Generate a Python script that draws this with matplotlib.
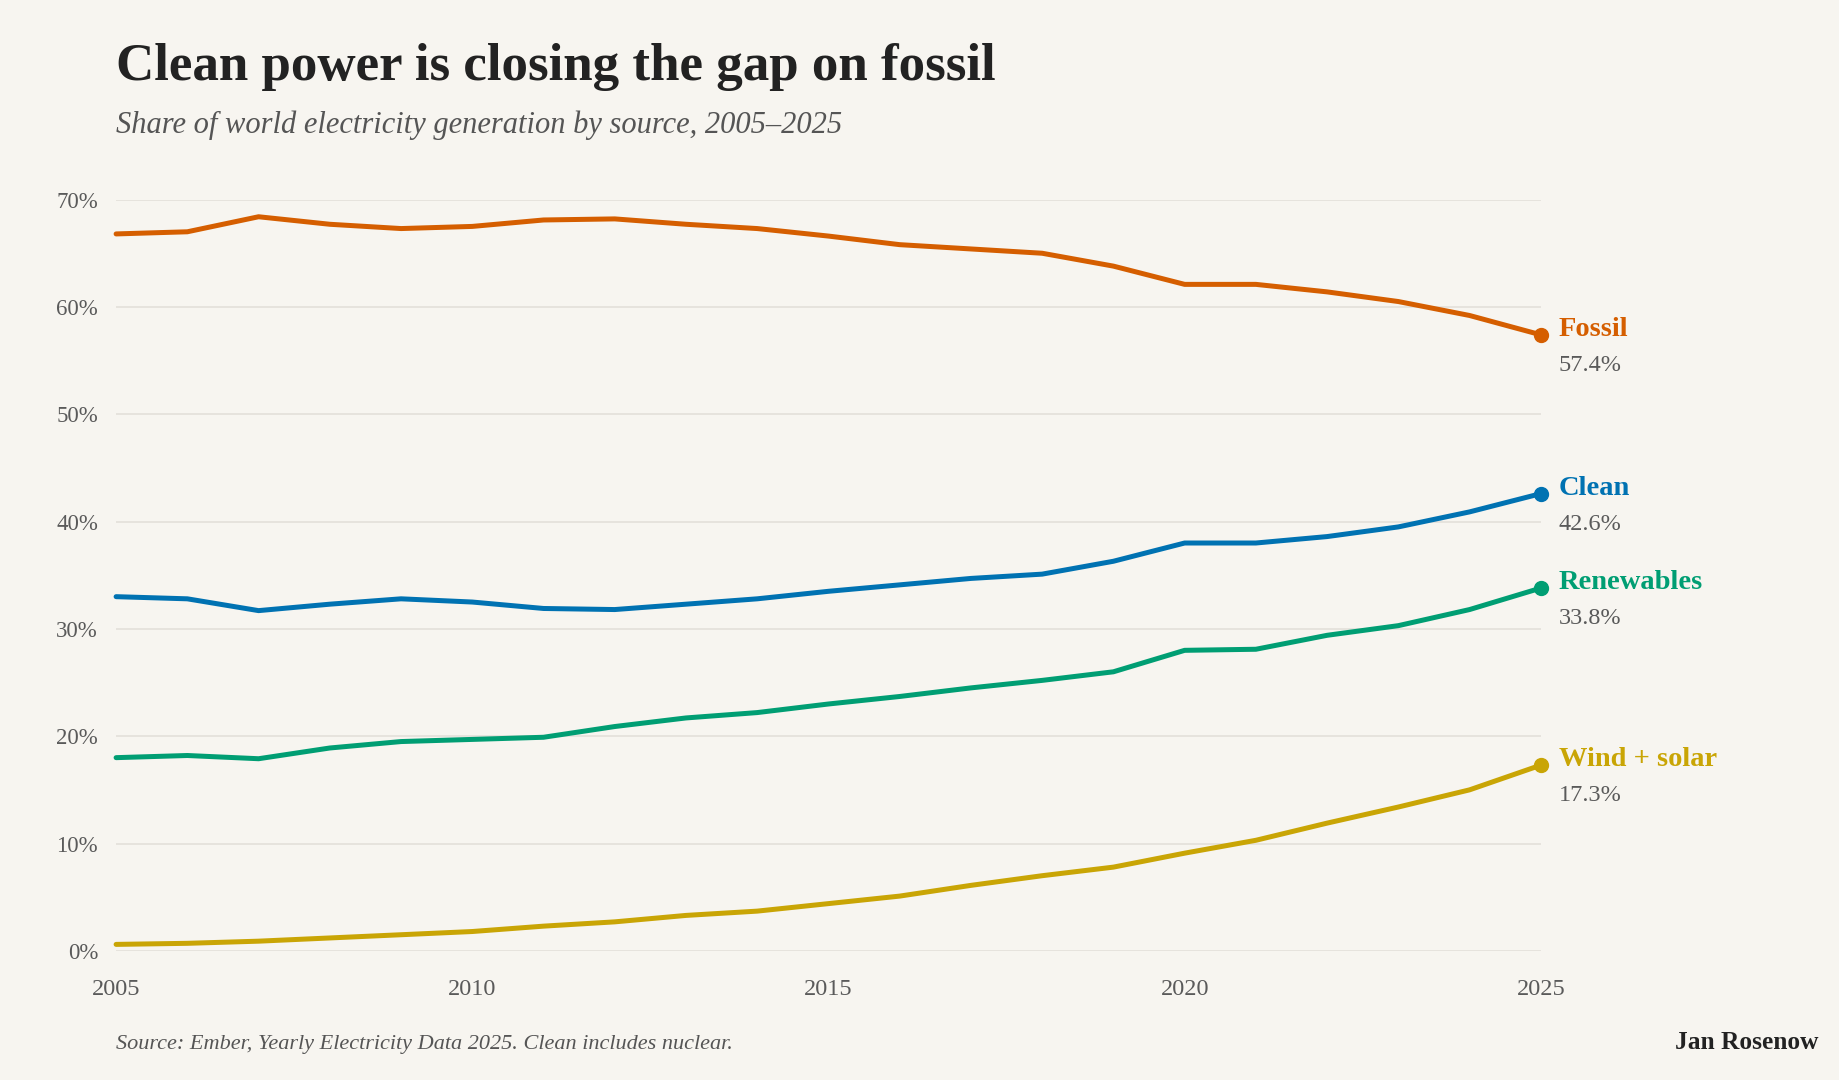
import matplotlib
matplotlib.use("Agg")
import matplotlib.pyplot as plt
import numpy as np

years = list(range(2005, 2026))

fossil = [66.8, 67.0, 68.4, 67.7, 67.3, 67.5, 68.1, 68.2, 67.7, 67.3, 66.6,
          65.8, 65.4, 65.0, 63.8, 62.1, 62.1, 61.4, 60.5, 59.2, 57.4]
clean = [33.0, 32.8, 31.7, 32.3, 32.8, 32.5, 31.9, 31.8, 32.3, 32.8, 33.5,
         34.1, 34.7, 35.1, 36.3, 38.0, 38.0, 38.6, 39.5, 40.9, 42.6]
renewables = [18.0, 18.2, 17.9, 18.9, 19.5, 19.7, 19.9, 20.9, 21.7, 22.2, 23.0,
              23.7, 24.5, 25.2, 26.0, 28.0, 28.1, 29.4, 30.3, 31.8, 33.8]
wind_solar = [0.6, 0.7, 0.9, 1.2, 1.5, 1.8, 2.3, 2.7, 3.3, 3.7, 4.4,
              5.1, 6.1, 7.0, 7.8, 9.1, 10.3, 11.9, 13.4, 15.0, 17.3]

series_names = ["Fossil", "Clean", "Renewables", "Wind + solar"]
series_values = [fossil, clean, renewables, wind_solar]
series_colors = ["#d55e00", "#0072b2", "#009e73", "#c9a505"]

y_ticks = [0, 10, 20, 30, 40, 50, 60, 70]
x_ticks = [2005, 2010, 2015, 2020, 2025]

bg = "#f7f5f0"
serif = ["Liberation Serif", "DejaVu Serif"]
plt.rcParams["font.family"] = serif

fig = plt.figure(figsize=(18.4, 10.8), dpi=100, facecolor=bg)
ax = fig.add_axes([0.0631, 0.1196, 0.7743, 0.6956], facecolor=bg)

for name, vals, col in zip(series_names, series_values, series_colors):
    ax.plot(years, vals, color=col, lw=3.6, solid_capstyle="round",
            solid_joinstyle="round", clip_on=False, zorder=3)
    ax.plot(years[-1], vals[-1], "o", color=col, ms=10, clip_on=False, zorder=4)
    ax.annotate(name, (years[-1], vals[-1]), xytext=(13, 4), textcoords="offset points",
                ha="left", va="center", fontsize=20.5, fontweight="bold", color=col)
    ax.annotate(f"{vals[-1]:.1f}%", (years[-1], vals[-1]), xytext=(13, -22),
                textcoords="offset points", ha="left", va="center",
                fontsize=17.5, color="#5a5a5a")

ax.set_xlim(2005, 2025)
ax.set_ylim(0, 70)
ax.set_yticks(y_ticks)
ax.set_yticklabels([f"{t}%" for t in y_ticks])
ax.set_xticks(x_ticks)
ax.grid(axis="y", color="#e6e3dd", lw=1.4, zorder=0)
ax.grid(axis="x", visible=False)
for s in ax.spines.values():
    s.set_visible(False)
ax.tick_params(axis="both", length=0, colors="#5a5a5a")
ax.tick_params(axis="y", labelsize=16.5, pad=13)
ax.tick_params(axis="x", labelsize=17.5, pad=20)

fig.text(0.0631, 0.926, "Clean power is closing the gap on fossil", fontsize=38.2,
         fontweight="bold", color="#222222", ha="left", va="baseline")
fig.text(0.0631, 0.877, "Share of world electricity generation by source, 2005\u20132025",
         fontsize=22, style="italic", color="#555555", ha="left", va="baseline")
fig.text(0.0631, 0.029, "Source: Ember, Yearly Electricity Data 2025. Clean includes nuclear.",
         fontsize=16, style="italic", color="#555555", ha="left", va="baseline")
fig.text(0.9885, 0.029, "Jan Rosenow", fontsize=18.3, fontweight="bold",
         color="#222222", ha="right", va="baseline")

fig.savefig("out.png", dpi=100, facecolor=bg)
